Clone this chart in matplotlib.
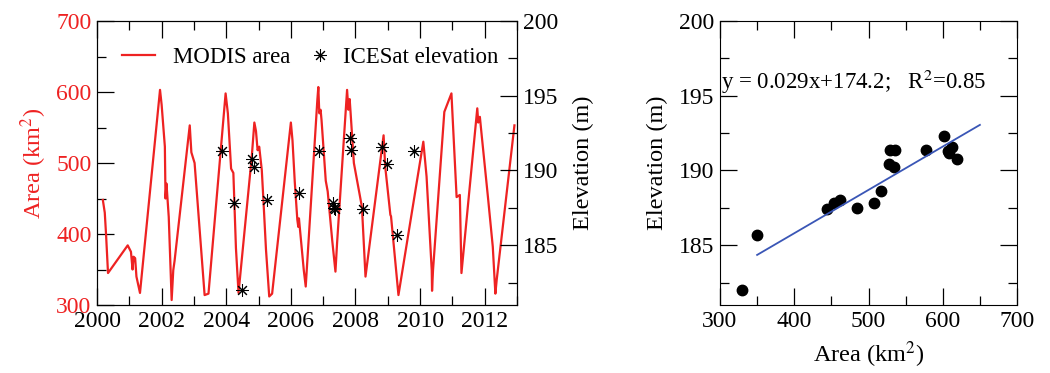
import matplotlib
matplotlib.use("Agg")
import matplotlib.pyplot as plt
from matplotlib.ticker import MultipleLocator

plt.rcParams["font.family"] = ["Liberation Serif", "DejaVu Serif"]
plt.rcParams["mathtext.fontset"] = "stix"

RED = "#ee2222"
BLUE = "#3a56b6"

# MODIS lake area (km2), vertices
modis_year = [
    2000.18, 2000.24, 2000.28, 2000.34, 2000.95, 2001.05, 2001.10, 2001.13, 2001.18, 2001.22,
    2001.33, 2001.95, 2002.00, 2002.10, 2002.12, 2002.15, 2002.22, 2002.31, 2002.36, 2002.40,
    2002.87, 2002.92, 2003.02, 2003.33, 2003.45, 2003.98, 2004.05, 2004.15, 2004.22, 2004.30,
    2004.38, 2004.79, 2004.87, 2004.92, 2004.97, 2005.02, 2005.10, 2005.15, 2005.23, 2005.33,
    2005.42, 2006.00, 2006.05, 2006.12, 2006.20, 2006.23, 2006.25, 2006.40, 2006.46, 2006.82,
    2006.85, 2006.88, 2006.92, 2006.95, 2007.08, 2007.14, 2007.28, 2007.38, 2007.43, 2007.74,
    2007.78, 2007.82, 2007.85, 2007.95, 2008.20, 2008.31, 2008.87, 2008.92, 2009.08, 2009.10,
    2009.33, 2010.10, 2010.20, 2010.36, 2010.37, 2010.40, 2010.75, 2010.97, 2011.13, 2011.23,
    2011.28, 2011.77, 2011.80, 2011.85, 2011.90, 2012.10, 2012.25, 2012.33, 2012.37, 2012.92,
]
modis_area = [
    448, 430, 399, 345, 384, 375, 350, 368, 366, 340,
    317, 603, 582, 523, 450, 471, 424, 307, 349, 362,
    553, 515, 500, 314, 316, 598, 570, 492, 486, 380,
    317, 509, 557, 545, 518, 523, 490, 448, 378, 312,
    316, 557, 532, 474, 420, 410, 422, 349, 326, 589,
    607, 570, 575, 560, 475, 460, 391, 347, 387, 603,
    575, 590, 570, 500, 438, 340, 539, 495, 427, 425,
    314, 530, 481, 349, 320, 349, 572, 598, 452, 455,
    345, 577, 557, 565, 542, 452, 382, 316, 335, 553,
]

# ICESat elevation (m)
ice_year = [2003.86, 2004.24, 2004.48, 2004.81, 2004.86, 2005.25, 2006.25, 2006.87, 2007.29,
            2007.33, 2007.37, 2007.83, 2007.86, 2008.24, 2008.81, 2008.97, 2009.30, 2009.81]
ice_elev = [191.3, 187.8, 182.0, 190.8, 190.2, 188.0, 188.5, 191.3, 187.8,
            187.5, 187.4, 192.2, 191.4, 187.4, 191.6, 190.4, 185.7, 191.3]

# area vs elevation pairs
sc_area = [329, 350, 444, 454, 462, 485, 507, 517, 528, 529, 536, 535, 578, 601, 607, 612, 609, 619]
sc_elev = [182.0, 185.7, 187.4, 187.8, 188.0, 187.5, 187.8, 188.6, 190.4, 191.4, 191.4, 190.2,
           191.4, 192.3, 191.3, 191.6, 191.2, 190.8]
fit_x = [350, 650]
slope, intercept = 0.029, 174.2

TICK_FS = 17
LABEL_FS = 17.5
TEXT_FS = 16.5


def style_ticks(ax, **kw):
    ax.tick_params(which="major", direction="in", length=12.5, width=0.9,
                   labelsize=TICK_FS, pad=4, **kw)
    ax.tick_params(which="minor", direction="in", length=6.5, width=0.9, **kw)


fig = plt.figure(figsize=(10.5, 3.73), dpi=100)

ax1 = fig.add_axes([0.0924, 0.1823, 0.4, 0.7614])
line, = ax1.plot(modis_year, modis_area, color=RED, lw=1.6)
ax1.set_xlim(2000, 2013)
ax1.set_ylim(300, 700)
ax1.xaxis.set_major_locator(MultipleLocator(2))
ax1.xaxis.set_minor_locator(MultipleLocator(1))
ax1.yaxis.set_major_locator(MultipleLocator(100))
ax1.yaxis.set_minor_locator(MultipleLocator(50))
style_ticks(ax1, top=True, bottom=True, left=True, right=False)
ax1.tick_params(axis="y", which="major", labelcolor=RED, pad=4)
ax1.set_ylabel("Area (km$^2$)", color=RED, fontsize=LABEL_FS, labelpad=5)

ax2 = ax1.twinx()
stars, = ax2.plot(ice_year, ice_elev, ls="none", marker=(8, 2, 0), ms=9, mew=0.75, color="black")
ax2.set_ylim(181, 200)
ax2.yaxis.set_major_locator(MultipleLocator(5))
ax2.yaxis.set_minor_locator(MultipleLocator(2.5))
style_ticks(ax2, right=True, left=False)
ax2.set_ylabel("Elevation (m)", fontsize=LABEL_FS, labelpad=11)

leg1 = ax2.legend([line], ["MODIS area"], loc="center left", bbox_to_anchor=(0.06, 0.873),
                  frameon=False, fontsize=TEXT_FS, handlelength=1.45, handletextpad=0.75,
                  borderpad=0, borderaxespad=0)
ax2.add_artist(leg1)
ax2.legend([stars], ["ICESat elevation"], loc="center left", bbox_to_anchor=(0.51, 0.873),
           frameon=False, fontsize=TEXT_FS, handlelength=0.8, handletextpad=0.57,
           borderpad=0, borderaxespad=0)

ax3 = fig.add_axes([0.6857, 0.1823, 0.2829, 0.7614])
ax3.plot(sc_area, sc_elev, ls="none", marker="o", ms=7.5, color="black")
ax3.plot(fit_x, [slope * v + intercept for v in fit_x], color=BLUE, lw=1.3)
ax3.set_xlim(300, 700)
ax3.set_ylim(181, 200)
ax3.xaxis.set_major_locator(MultipleLocator(100))
ax3.xaxis.set_minor_locator(MultipleLocator(50))
ax3.yaxis.set_major_locator(MultipleLocator(5))
ax3.yaxis.set_minor_locator(MultipleLocator(2.5))
style_ticks(ax3, top=True, right=True)
ax3.set_xlabel("Area (km$^2$)", fontsize=LABEL_FS, labelpad=6)
ax3.set_ylabel("Elevation (m)", fontsize=LABEL_FS, labelpad=8)
ax3.text(0.005, 0.785, f"y = {slope}x+{intercept};   R$^2$=0.85", transform=ax3.transAxes,
         fontsize=TEXT_FS, ha="left", va="center")

fig.savefig("out.png", dpi=100)
